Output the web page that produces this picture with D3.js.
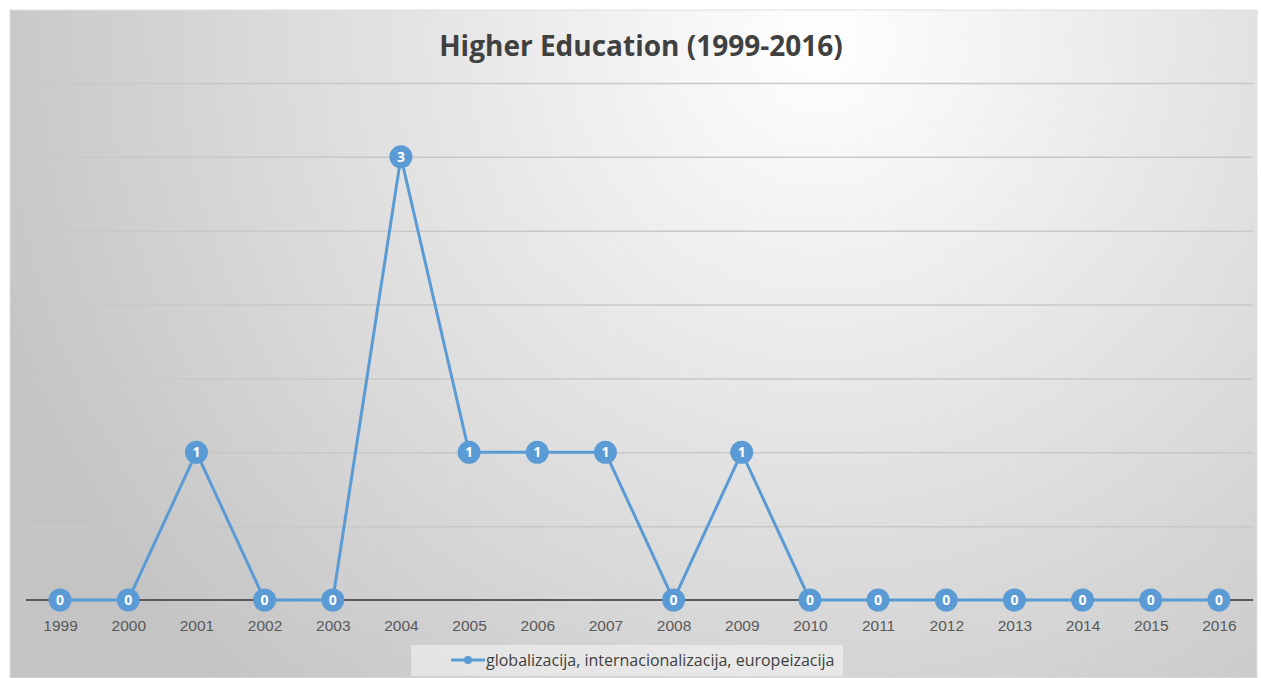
<!DOCTYPE html>
<html>
<head>
<meta charset="utf-8">
<script src="https://cdn.jsdelivr.net/npm/d3@7"></script>
<style>
  body { margin: 0; background: #fff; }
  svg { display: block; font-family: "Open Sans", "Noto Sans", sans-serif; }
</style>
</head>
<body>
<div id="chart"></div>
<script>
const years = ["1999","2000","2001","2002","2003","2004","2005","2006","2007","2008",
               "2009","2010","2011","2012","2013","2014","2015","2016"];
const counts = [0,0,1,0,0,3,1,1,1,0,1,0,0,0,0,0,0,0];
const seriesName = "globalizacija, internacionalizacija, europeizacija";
const yTicks = [0,0.5,1,1.5,2,2.5,3,3.5];

const W = 1261, H = 678;
const margin = { top: 83, right: 8, bottom: 78, left: 26 };

const svg = d3.select("#chart").append("svg")
    .attr("width", W)
    .attr("height", H);

// fondo con degradado
const defs = svg.append("defs");
const grad = defs.append("radialGradient")
    .attr("id", "bg")
    .attr("gradientUnits", "userSpaceOnUse")
    .attr("cx", 820).attr("cy", 40).attr("r", 880);
grad.append("stop").attr("offset", "0%").attr("stop-color", "#ffffff");
grad.append("stop").attr("offset", "100%").attr("stop-color", "#c4c4c4");

svg.append("rect")
    .attr("x", 10).attr("y", 10)
    .attr("width", W - 14).attr("height", H - 10)
    .attr("fill", "url(#bg)")
    .attr("stroke", "#e0e0e0");

const x = d3.scalePoint()
    .domain(years)
    .range([margin.left, W - margin.right])
    .padding(0.5);

const y = d3.scaleLinear()
    .domain([0, 3.5])
    .range([H - margin.bottom, margin.top]);

// lineas de cuadricula
svg.append("g")
    .attr("transform", `translate(${margin.left},0)`)
    .call(d3.axisLeft(y).tickValues(yTicks.slice(1)).tickSize(-(W - margin.left - margin.right)).tickFormat(""))
    .call(g => g.select(".domain").remove())
    .call(g => g.selectAll("line").attr("stroke", "#c8c8c8").attr("stroke-width", 1.5));

// eje x
const xAxis = svg.append("g")
    .attr("transform", `translate(0,${y(0)})`)
    .call(d3.axisBottom(x).tickSize(0).tickPadding(20));
xAxis.select(".domain")
    .attr("d", `M${margin.left},0H${W - margin.right}`)
    .attr("stroke", "#595959").attr("stroke-width", 2);
xAxis.selectAll("text")
    .attr("fill", "#595959")
    .style("font-size", "15.5px");

// linea de la serie
const line = d3.line()
    .x((d, i) => x(years[i]))
    .y(d => y(d));

svg.append("path")
    .datum(counts)
    .attr("d", line)
    .attr("fill", "none")
    .attr("stroke", "#5b9bd5")
    .attr("stroke-width", 3);

const pts = svg.append("g").selectAll("g")
    .data(counts)
    .enter().append("g")
    .attr("transform", (d, i) => `translate(${x(years[i])},${y(d)})`);

pts.append("circle")
    .attr("r", 11.5)
    .attr("fill", "#5b9bd5");

pts.append("text")
    .attr("dy", "0.36em")
    .attr("text-anchor", "middle")
    .attr("fill", "#fff")
    .style("font-size", "14px")
    .style("font-weight", "bold")
    .text(d => d);

// titulo
svg.append("text")
    .attr("x", 641).attr("y", 56)
    .attr("text-anchor", "middle")
    .attr("fill", "#404040")
    .style("font-size", "28px")
    .style("font-weight", "bold")
    .text("Higher Education (1999-2016)");

// leyenda
const legend = svg.append("g");
legend.append("rect")
    .attr("x", 411).attr("y", 645)
    .attr("width", 432).attr("height", 31)
    .attr("fill", "#ffffff").attr("fill-opacity", 0.45);
legend.append("line")
    .attr("x1", 451).attr("x2", 485)
    .attr("y1", 660).attr("y2", 660)
    .attr("stroke", "#5b9bd5").attr("stroke-width", 3);
legend.append("circle")
    .attr("cx", 468).attr("cy", 660).attr("r", 4)
    .attr("fill", "#5b9bd5");
legend.append("text")
    .attr("x", 486).attr("y", 660)
    .attr("dy", "0.35em")
    .attr("fill", "#404040")
    .style("font-size", "16px")
    .text(seriesName);
</script>
</body>
</html>
